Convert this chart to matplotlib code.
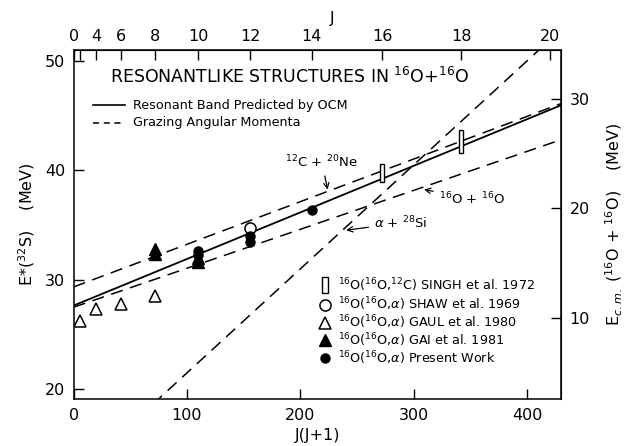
import numpy as np
import matplotlib
matplotlib.use("Agg")
import matplotlib.pyplot as plt

plt.rcParams['font.family'] = ['DejaVu Sans']
plt.rcParams['mathtext.fontset'] = 'dejavusans'

# --- data ---
# J(J+1) on the bottom axis, E*(32S) in MeV on the left axis
Q = 16.54  # E* = Ecm + Q

top_J = [0, 2, 4, 6, 8, 10, 12, 14, 16, 18, 20]
top_lab = ['0', '', '4', '6', '8', '10', '12', '14', '16', '18', '20']

ocm_x = [0, 430]
ocm_e = [27.65, 45.95]
cne_x = [0, 430]
cne_e = [29.35, 46.1]
oo_x = [0, 430]
oo_e = [27.5, 42.8]
asi_x = [70, 420]
asi_e = [18.65, 51.9]

singh_x = [272, 342]
singh_lo = [38.95, 41.55]
singh_hi = [40.6, 43.65]

shaw_x = [156]
shaw_e = [34.7]

gaul_x = [6, 20, 42, 72]
gaul_e = [26.2, 27.3, 27.8, 28.5]

gai_x = [72, 72, 110, 110]
gai_e = [32.8, 32.4, 31.95, 31.65]

pres_x = [110, 110, 156, 156, 210]
pres_e = [32.6, 32.25, 34.05, 33.45, 36.35]

fig = plt.figure(figsize=(6.29, 4.46), dpi=100)
ax = fig.add_axes([0.117, 0.105, 0.775, 0.783])

dash = (0, (8, 5))
ax.plot(ocm_x, ocm_e, color='black', lw=1.3)
ax.plot(cne_x, cne_e, color='black', lw=1.1, linestyle=dash)
ax.plot(oo_x, oo_e, color='black', lw=1.1, linestyle=dash)
ax.plot(asi_x, asi_e, color='black', lw=1.1, linestyle=dash)

# Singh et al. energy bars
for x, lo, hi in zip(singh_x, singh_lo, singh_hi):
    ax.bar(x, hi - lo, bottom=lo, width=3.5, color='white', edgecolor='black', lw=1.0, zorder=4)

ax.plot(shaw_x, shaw_e, 'o', ms=8, mfc='white', mec='black', mew=1.1, zorder=5)
ax.plot(gaul_x, gaul_e, '^', ms=9, mfc='white', mec='black', mew=1.1, zorder=5)
ax.plot(gai_x, gai_e, '^', ms=8, color='black', zorder=5)
ax.plot(pres_x, pres_e, 'o', ms=6.5, color='black', zorder=5)

ax.set_xlim(0, 430)
ax.set_ylim(19.1, 51.0)
ax.set_xticks([0, 100, 200, 300, 400])
ax.set_yticks([20, 30, 40, 50])
ax.tick_params(direction='in', length=7, width=1.0, labelsize=11.5, pad=6)
for s in ax.spines.values():
    s.set_linewidth(1.1)

ax.set_xlabel('J(J+1)', fontsize=11.5, labelpad=4)
ax.set_ylabel(r'E*($^{32}$S)    (MeV)', fontsize=11.5, labelpad=6)

# top axis in J
top = ax.secondary_xaxis('top')
top.set_xticks([j * (j + 1) for j in top_J], top_lab)
top.tick_params(direction='in', length=7, width=1.0, labelsize=11.5, pad=4)
ax.text(0.53, 1.09, 'J', transform=ax.transAxes, fontsize=11.5, ha='center', va='center')

# right axis in Ecm
right = ax.secondary_yaxis('right', functions=(lambda e: e - Q, lambda c: c + Q))
right.set_yticks([10, 20, 30])
right.tick_params(direction='in', length=7, width=1.0, labelsize=11.5, pad=6)
right.set_ylabel(r'E$_{c.m.}$ ($^{16}$O + $^{16}$O)    (MeV)', fontsize=11.5, labelpad=10)

# title and line legend
ax.text(0.075, 0.923, r'RESONANTLIKE STRUCTURES IN $^{16}$O+$^{16}$O', transform=ax.transAxes,
        fontsize=12.5, va='center', ha='left')
ax.plot([0.040, 0.106], [0.842, 0.842], color='black', lw=1.2, transform=ax.transAxes)
ax.text(0.122, 0.842, 'Resonant Band Predicted by OCM', transform=ax.transAxes,
        fontsize=9.2, va='center')
ax.plot([0.040, 0.106], [0.792, 0.792], color='black', lw=1.1, linestyle=(0, (4, 3)),
        transform=ax.transAxes)
ax.text(0.122, 0.792, 'Grazing Angular Momenta', transform=ax.transAxes,
        fontsize=9.2, va='center')

# line labels with arrows
arw = dict(arrowstyle='->', lw=0.9, color='black')
ax.annotate(r'$^{12}$C + $^{20}$Ne', xy=(224.6, 38.0), xytext=(219, 40.75),
            fontsize=9.5, ha='center', va='center', arrowprops=arw)
ax.annotate(r'$^{16}$O + $^{16}$O', xy=(306.7, 38.3), xytext=(322, 37.4),
            fontsize=9.5, ha='left', va='center', arrowprops=arw)
ax.annotate(r'$\alpha$ + $^{28}$Si', xy=(238, 34.5), xytext=(265, 35.2),
            fontsize=9.5, ha='left', va='center', arrowprops=arw)

# symbol legend
leg_y = [0.327, 0.271, 0.219, 0.169, 0.117]
leg_txt = [r'$^{16}$O($^{16}$O,$^{12}$C) SINGH et al. 1972',
           r'$^{16}$O($^{16}$O,$\alpha$) SHAW et al. 1969',
           r'$^{16}$O($^{16}$O,$\alpha$) GAUL et al. 1980',
           r'$^{16}$O($^{16}$O,$\alpha$) GAI et al. 1981',
           r'$^{16}$O($^{16}$O,$\alpha$) Present Work']
box = [(-0.35, -1), (0.35, -1), (0.35, 1), (-0.35, 1), (-0.35, -1)]
leg_style = [dict(marker=box, ms=12, mfc='white', mec='black', mew=1.0),
             dict(marker='o', ms=8, mfc='white', mec='black', mew=1.1),
             dict(marker='^', ms=9, mfc='white', mec='black', mew=1.1),
             dict(marker='^', ms=8, mfc='black', mec='black'),
             dict(marker='o', ms=6.5, mfc='black', mec='black')]
for y, t, st in zip(leg_y, leg_txt, leg_style):
    ax.plot([0.516], [y], linestyle='none', transform=ax.transAxes, **st)
    ax.text(0.543, y, t, transform=ax.transAxes, fontsize=9.2, va='center')

fig.savefig('out.png', dpi=100)
